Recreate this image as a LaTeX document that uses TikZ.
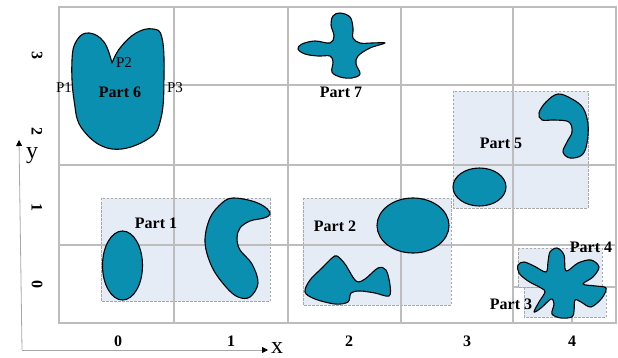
\documentclass[tikz,border=0pt]{standalone}
\usepackage{fontspec}
\setmainfont{Liberation Serif}
\usetikzlibrary{arrows.meta}
\definecolor{gridc}{HTML}{BDBDBD}
\definecolor{boxfill}{HTML}{E6ECF6}
\definecolor{boxline}{HTML}{A8A8A8}
\definecolor{teal}{HTML}{0A8FB0}
\definecolor{axisc}{HTML}{A8A8A8}
\tikzset{
  gridline/.style={draw=gridc, line width=1.6pt},
  partbox/.style={fill=boxfill, draw=boxline, dashed, line width=0.6pt, dash pattern=on 2.5pt off 1.5pt},
  blob/.style={fill=teal, draw=black, line width=1.1pt, line join=round},
  partlabel/.style={font=\fontsize{16}{18}\selectfont\bfseries, inner sep=0pt},
  plabel/.style={font=\fontsize{15}{17}\selectfont, inner sep=0pt},
  ticklabel/.style={font=\fontsize{16}{18}\selectfont\bfseries, inner sep=0pt},
  axislabel/.style={font=\fontsize{24}{26}\selectfont, inner sep=0pt},
  axisline/.style={draw=axisc, line width=0.8pt, -{Triangle[length=6pt,width=6pt,color=black]}}
}
\begin{document}
\begin{tikzpicture}[x=1pt,y=-1pt]
\useasboundingbox (0,0) rectangle (618,358);
\fill[white] (0,0) rectangle (618,358);
% boxes
\path[partbox] (101,198) rectangle (270,301);
\path[partbox] (303,198) rectangle (451,305);
\path[partbox] (453,91) rectangle (588,208);
\path[partbox] (524,287) rectangle (606,317);
% sub grid in lower right cell
\draw[gridline] (572,287) -- (572,323);
\draw[gridline] (513,287) -- (616,287);
\path[partbox] (518,248) rectangle (602,287);
% main grid
\draw[gridline] (59,7) rectangle (616,323);
\foreach \gx in {174,288,401,513} \draw[gridline] (\gx,7) -- (\gx,323);
\foreach \gy in {85,165,245} \draw[gridline] (59,\gy) -- (616,\gy);
% axes
\coordinate (o) at (22,350);
\coordinate (xe) at (268,350);
\coordinate (ye) at (19,140);
\draw[axisline] (o) -- (xe);
\draw[axisline] (o) -- (ye);
\node[axislabel] (xl) at (277,348) {x};
\node[axislabel] (yl) at (32,156) {y};
% tick labels
\node[ticklabel] (x0) at (118,341) {0};
\node[ticklabel] (x1) at (231,341) {1};
\node[ticklabel] (x2) at (349,341) {2};
\node[ticklabel] (x3) at (467,341) {3};
\node[ticklabel] (x4) at (572,341) {4};
\node[ticklabel, rotate=-90] (y0) at (37,284) {0};
\node[ticklabel, rotate=-90] (y1) at (37,208) {1};
\node[ticklabel, rotate=-90] (y2) at (37,132) {2};
\node[ticklabel, rotate=-90] (y3) at (37,56) {3};
% shapes
% Part 6
\draw[blob] plot[smooth, tension=0.7] coordinates {(112,63) (104,42) (89,33) (77,40) (72,60) (74,100) (83,130) (112,149) (148,139) (161,118) (164,75) (162,38) (153,29) (136,33) (120,48) (112,63)} -- cycle;
% Part 7
\draw[blob] plot[smooth cycle, tension=0.6] coordinates {(340,13) (350,17) (353,28) (353,38) (360,43) (372,43) (385,43) (370,48) (358,56) (356,64) (360,74) (352,78) (340,77) (332,72) (333,62) (330,56) (318,56) (305,54) (298,49) (302,44) (315,41) (330,43) (334,36) (331,25) (333,16)};
% Part 5 hook
\draw[blob] plot[smooth cycle, tension=0.6] coordinates {(558,94) (572,99) (583,108) (588,124) (587,143) (582,155) (570,158) (563,152) (567,142) (572,132) (569,122) (555,120) (542,120) (539,113) (546,102)};
% Part 5 ellipse
\draw[blob] (479.5,187) ellipse [x radius=26.5, y radius=19];
% Part 1 ellipse
\draw[blob] (122.5,265.5) ellipse [x radius=20, y radius=34.5];
% Part 1 crescent
\draw[blob] plot[smooth cycle, tension=0.6] coordinates {(233,198) (252,201) (265,207) (270,214) (264,218) (250,221) (240,228) (237,238) (240,250) (252,264) (258,283) (250,297) (238,297) (226,287) (212,267) (205,242) (210,218) (222,203)};
% Part 2 ellipse
\draw[blob] (413,225.5) ellipse [x radius=36, y radius=27.5];
% Part 2 fish
\draw[blob] plot[smooth cycle, tension=0.55] coordinates {(337,256) (345,264) (356,281) (365,279) (378,268) (386,270) (390,285) (389,296) (375,293) (360,291) (351,293) (348,302) (335,304) (315,299) (305,292) (310,280) (322,268) (332,258)};
% Part 3/4 star
\draw[blob] plot[smooth cycle, tension=0.55] coordinates {(557,248) (564,255) (566,271) (578,263) (591,260) (599,267) (593,277) (583,284) (596,286) (606,288) (602,298) (591,307) (581,302) (575,300) (574,311) (572,317) (561,318) (552,314) (554,304) (551,299) (541,308) (534,312) (539,302) (545,292) (541,288) (528,281) (519,273) (518,265) (524,262) (534,266) (546,272) (548,262) (550,252)};
% labels
\node[partlabel] (p1) at (156,223) {Part 1};
\node[partlabel] (p2) at (335,226) {Part 2};
\node[partlabel] (p3) at (511,304) {Part 3};
\node[partlabel] (p4) at (591,247) {Part 4};
\node[partlabel] (p5) at (501,143) {Part 5};
\node[partlabel] (p6) at (120,92) {Part 6};
\node[partlabel] (p7) at (341,92) {Part 7};
\node[plabel] (pt1) at (64,88) {P1};
\node[plabel] (pt2) at (124,63) {P2};
\node[plabel] (pt3) at (175,88) {P3};
\end{tikzpicture}
\end{document}
